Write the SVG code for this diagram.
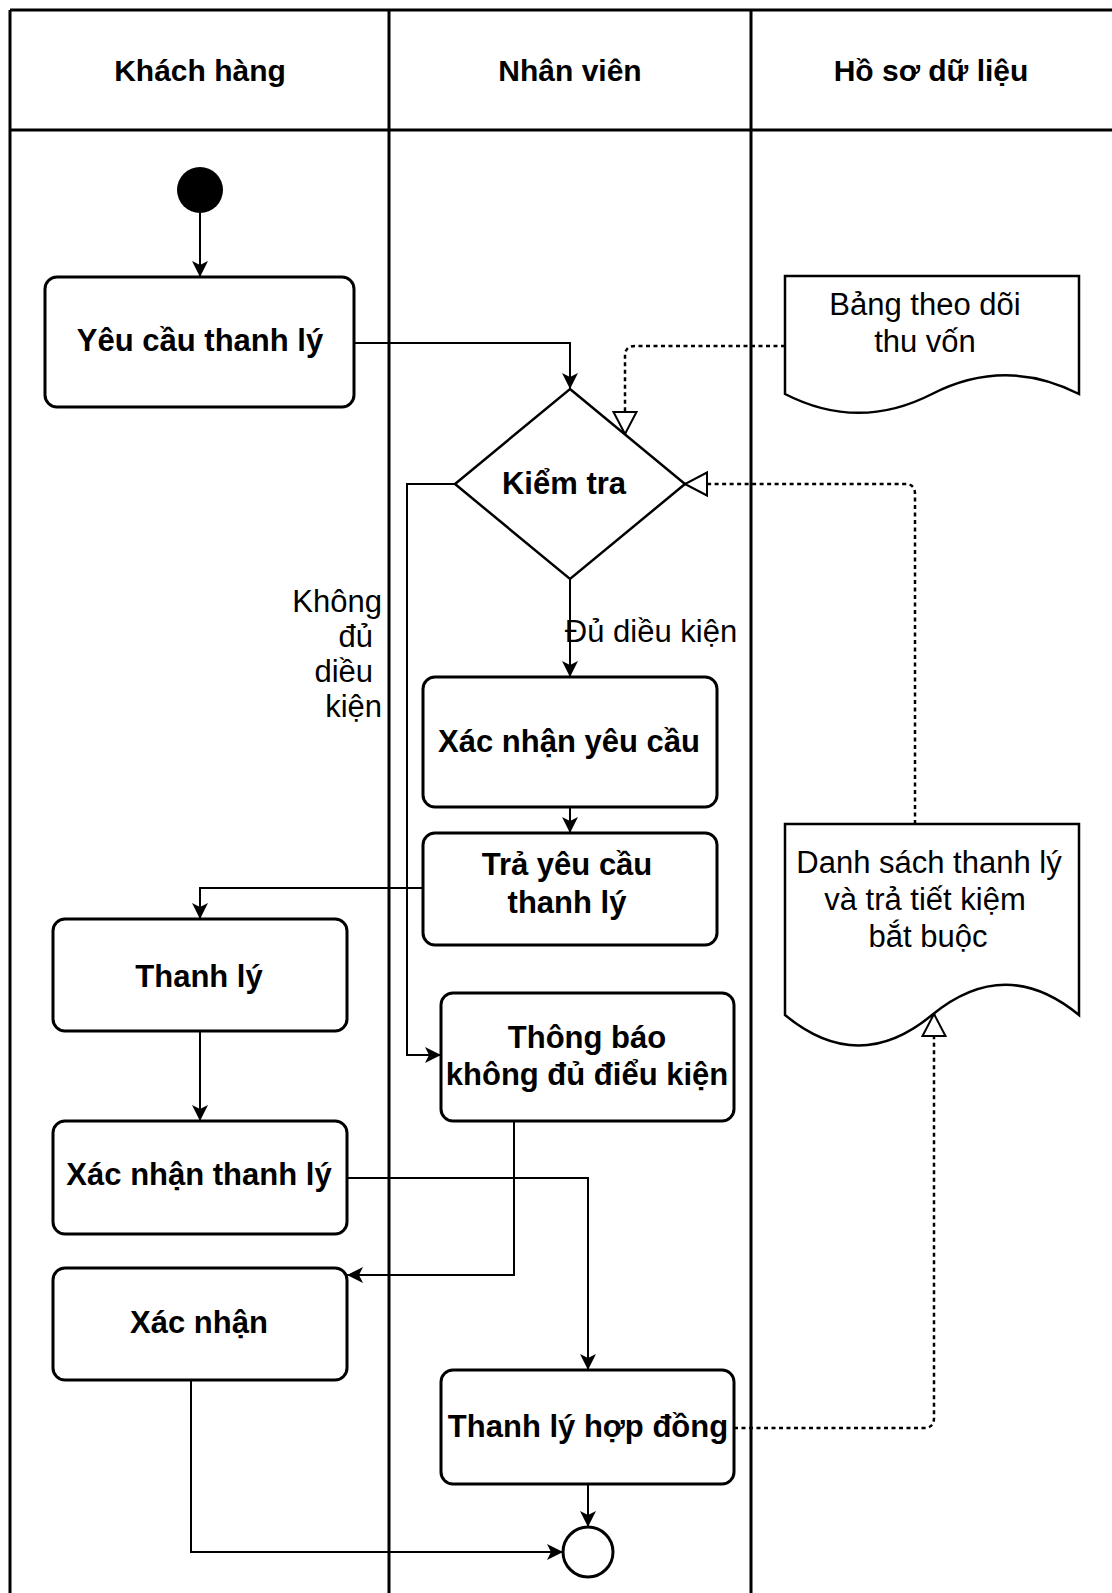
<svg xmlns="http://www.w3.org/2000/svg" width="1112" height="1593" viewBox="0 0 1112 1593">
<defs>
<style>
.lane{stroke:#000;stroke-width:3;fill:none}
.node{fill:#fff;stroke:#000;stroke-width:3}
.b{font-family:"Liberation Sans",Arial,sans-serif;font-weight:bold;font-size:31px;fill:#000;text-anchor:middle}
.h{font-family:"Liberation Sans",Arial,sans-serif;font-weight:bold;font-size:30px;fill:#000;text-anchor:middle}
.n{font-family:"Liberation Sans",Arial,sans-serif;font-size:31px;fill:#000;text-anchor:middle}
.c{fill:none;stroke:#000;stroke-width:2}
.d{fill:none;stroke:#000;stroke-width:2.5;stroke-dasharray:4 3.5}
</style>
<marker id="arr" markerUnits="userSpaceOnUse" viewBox="0 0 16 16" markerWidth="16" markerHeight="16" refX="16" refY="8" orient="auto">
<path d="M16,8 L0,0 L4,8 L0,16 Z" fill="#000" stroke="none"/>
</marker>
<marker id="open" markerUnits="userSpaceOnUse" viewBox="-2 -2 27 28" markerWidth="27" markerHeight="28" refX="22" refY="11.5" orient="auto" overflow="visible">
<path d="M22,11.5 L0,0 L0,23 Z" fill="#fff" stroke="#000" stroke-width="2" stroke-dasharray="none"/>
</marker>
</defs>
<rect x="0" y="0" width="1112" height="1593" fill="#fff"/>

<g id="pool">
<path class="lane" d="M10,10 H1112 M10,10 V1593 M10,130 H1112 M389,10 V1593 M751,10 V1593"/>
<text class="h" x="200" y="81">Khách hàng</text>
<text class="h" x="570" y="81">Nhân viên</text>
<text class="h" x="931" y="81">Hồ sơ dữ liệu</text>
</g>

<g id="connectors">
<path class="c" d="M200,213 V277" marker-end="url(#arr)"/>
<path class="c" d="M354,343 H570 V389" marker-end="url(#arr)"/>
<path class="d" d="M785,346 H635 Q625,346 625,356 V434" marker-end="url(#open)"/>
<path class="d" d="M915,824 V494 Q915,484 905,484 H685" marker-end="url(#open)"/>
<path class="c" d="M570,579 V677" marker-end="url(#arr)"/>
<path class="c" d="M570,807 V833" marker-end="url(#arr)"/>
<path class="c" d="M423,888 H200 V919" marker-end="url(#arr)"/>
<path class="c" d="M200,1031 V1121" marker-end="url(#arr)"/>
<path class="c" d="M455,484 H407 V1055 H441" marker-end="url(#arr)"/>
<path class="c" d="M514,1121 V1275 H347" marker-end="url(#arr)"/>
<path class="c" d="M347,1178 H588 V1370" marker-end="url(#arr)"/>
<path class="c" d="M588,1484 V1527" marker-end="url(#arr)"/>
<path class="c" d="M191,1380 V1552 H563" marker-end="url(#arr)"/>
<path class="d" d="M734,1428 H924 Q934,1428 934,1418 V1014" marker-end="url(#open)"/>
<text class="n" x="651" y="642">Đủ diều kiện</text>
<text class="n" style="text-anchor:end" x="382" y="612">Không</text>
<text class="n" style="text-anchor:end" x="373" y="647">đủ</text>
<text class="n" style="text-anchor:end" x="373" y="682">diều</text>
<text class="n" style="text-anchor:end" x="382" y="717">kiện</text>
</g>

<g id="start">
<circle cx="200" cy="190" r="23" fill="#000"/>
</g>

<g id="yeucau">
<rect class="node" x="45" y="277" width="309" height="130" rx="12"/>
<text class="b" x="200" y="351">Yêu cầu thanh lý</text>
</g>

<g id="kiemtra">
<path class="node" d="M570,389 L685,484 L570,579 L455,484 Z" style="stroke-width:2.5"/>
<text class="b" x="564" y="494">Kiểm tra</text>
</g>

<g id="bangtheodoi">
<path class="node" style="stroke-width:2.5" d="M785,276 H1079 V394 Q1005.5,356.6 932,394 Q858.5,431.7 785,394 Z"/>
<text class="n" x="925" y="315">Bảng theo dõi</text>
<text class="n" x="925" y="352">thu vốn</text>
</g>

<g id="xacnhanyeucau">
<rect class="node" x="423" y="677" width="294" height="130" rx="12"/>
<text class="b" x="569" y="752">Xác nhận yêu cầu</text>
</g>

<g id="trayeucau">
<rect class="node" x="423" y="833" width="294" height="112" rx="12"/>
<text class="b" x="567" y="875">Trả yêu cầu</text>
<text class="b" x="567" y="913">thanh lý</text>
</g>

<g id="danhsach">
<path class="node" style="stroke-width:2.5" d="M785,824 H1079 V1015 Q1005.5,954.5 932,1015 Q858.5,1076 785,1015 Z"/>
<text class="n" x="929" y="873">Danh sách thanh lý</text>
<text class="n" x="925" y="910">và trả tiết kiệm</text>
<text class="n" x="928" y="947">bắt buộc</text>
</g>

<g id="thanhly">
<rect class="node" x="53" y="919" width="294" height="112" rx="12"/>
<text class="b" x="199" y="987">Thanh lý</text>
</g>

<g id="thongbao">
<rect class="node" x="441" y="993" width="293" height="128" rx="12"/>
<text class="b" x="587" y="1048">Thông báo</text>
<text class="b" x="587" y="1085">không đủ điểu kiện</text>
</g>

<g id="xacnhanthanhly">
<rect class="node" x="53" y="1121" width="294" height="113" rx="12"/>
<text class="b" x="199" y="1185">Xác nhận thanh lý</text>
</g>

<g id="xacnhan">
<rect class="node" x="53" y="1268" width="294" height="112" rx="12"/>
<text class="b" x="199" y="1333">Xác nhận</text>
</g>

<g id="thanhlyhopdong">
<rect class="node" x="441" y="1370" width="293" height="114" rx="12"/>
<text class="b" x="588" y="1437">Thanh lý hợp đồng</text>
</g>

<g id="end">
<circle cx="588" cy="1552" r="25" fill="#fff" stroke="#000" stroke-width="3"/>
</g>
</svg>
